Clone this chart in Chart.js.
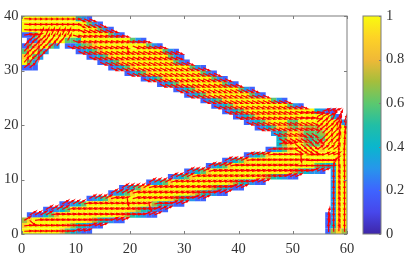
<!DOCTYPE html>
<html>
<head>
<meta charset="utf-8">
<script src="https://cdn.jsdelivr.net/npm/chart.js@4"></script>
<style>
  html, body { margin: 0; padding: 0; background: #fff; overflow: hidden; }
  #wrap { position: relative; width: 411px; height: 258px; }
  canvas { position: absolute; top: 0; }
</style>
</head>
<body>
<div id="wrap">
  <canvas id="field" width="411" height="258" style="left:0"></canvas>
  <canvas id="colorbar" width="61" height="258" style="left:350px"></canvas>
</div>
<script>
const xTicks = [0, 10, 20, 30, 40, 50, 60];
const yTicks = [0, 10, 20, 30, 40];
const colorbarTicks = [0, 0.2, 0.4, 0.6, 0.8, 1];

// colormap: [value, r, g, b]
const colorStops = [
    [0, 62, 38, 168], [0.1, 71, 71, 235], [0.2, 62, 100, 255], [0.3, 39, 150, 235],
    [0.4, 10, 182, 205], [0.5, 34, 190, 165], [0.6, 92, 200, 110], [0.7, 165, 190, 60],
    [0.8, 240, 185, 55], [0.9, 253, 210, 38], [1, 249, 251, 14],
];

// density per cell, top row (y 39-40) first: [first column, values], X = 1, digit = tenths
const densityRows = [
    [[0, 'XXXXXXXXXX532']],
    [[0, 'XXXXXXXXXXXX632']],
    [[0, 'XXXXXXXXXXXXXX632']],
    [[0, '226XXXXXXXXXXXXX632']],
    [[1, '238XXXX665XXXXXXXXX632']],
    [[0, '268XX63'], [8, '224679XXXXXXXXX632']],
    [[0, '6XX63'], [10, '23468XXXXXXXXXXX632']],
    [[0, '9X63'], [12, '23469XXXXXXXXXX632']],
    [[0, 'X63'], [14, '23469XXXXXXXXX632']],
    [[0, '222'], [16, '23469XXXXXXXXXX632']],
    [[19, '23469XXXXXXXXX632']],
    [[22, '23469XXXXXXXX632']],
    [[25, '23469XXXXXXX632']],
    [[28, '23469XXXXXXX632']],
    [[30, '23469XXXXXXX632']],
    [[33, '23469XXXXXXXX632']],
    [[35, '23469XXXXXXXXX632']],
    [[37, '23469XXXXXXXXXXXX4322']],
    [[39, '23469XXXXXXXXXXXXX42']],
    [[41, '23469XXX66XXXXXXX83']],
    [[43, '2346997687779XXXX8']],
    [[46, '3469X86667XXXXX']],
    [[47, '469X86566XXXX']],
    [[47, '479XX7668XXXX']],
    [[45, '23469XXXXX9XXXX']],
    [[41, '23469XXXXXXXXXXXXXX']],
    [[37, '23469XXXXXXXXXXXXXXXXXX']],
    [[34, '23469XXXXXXXXXXXXXXX6544XX']],
    [[30, '23469XXXXXXXXXXXXXX9754332'], [57, '3XX']],
    [[27, '23469XXXXXXXXXXXX9754322'], [57, '3XX']],
    [[23, '23469XXXXXXXXXX9754322'], [57, '3XX']],
    [[18, '23469XXXXXXXXXXX9754322'], [57, '3XX']],
    [[16, '23469XXXXXXXXXX9754322'], [57, '3XX']],
    [[12, '23469XXXXXXXXXX9754322'], [57, '3XX']],
    [[7, '22346XXXXXXXXXXX9754322'], [57, '3XX']],
    [[4, '22346XXXXXXXXXXX9754322'], [57, '3XX']],
    [[1, '222468XXXXXXXXXXX9754322'], [56, '23XX']],
    [[0, '79XXXXXXXXXX9754322'], [56, '23XX']],
    [[0, '9XXXXXXX9754322'], [56, '249X']],
    [[0, 'XXXXXXX864322'], [56, '2797']],
];

// arrow direction in degrees, same row order: [from column, to column, angle]
const arrowAngleRows = [
    [[0, 10, -2], [10, 13, -25]],
    [[0, 10, -3], [10, 15, -28]],
    [[0, 5, -4], [5, 10, -6], [10, 17, -24]],
    [[0, 3, 10], [3, 9, 65], [9, 19, -16]],
    [[1, 4, 45], [4, 9, 60], [9, 23, -18]],
    [[0, 7, 50], [8, 26, -22], [19, 20, -80]],
    [[0, 5, 50], [10, 29, -23]],
    [[0, 4, 50], [12, 29, -23]],
    [[0, 3, 50], [14, 31, -24]],
    [[0, 2, 40], [16, 34, -25]],
    [[19, 36, -25]],
    [[22, 38, -25]],
    [[25, 40, -25]],
    [[28, 43, -25]],
    [[30, 45, -25]],
    [[33, 49, -25]],
    [[35, 52, -24]],
    [[37, 50, -22], [50, 55, -15], [55, 58, 20]],
    [[39, 50, -20], [50, 54, -15], [54, 57, 30], [57, 59, 60]],
    [[41, 50, -22], [50, 54, -25], [54, 58, 40], [58, 60, 70]],
    [[43, 50, -24], [50, 54, -20], [54, 57, 40], [57, 58, 50], [58, 60, 70]],
    [[46, 51, -24], [51, 54, -35], [54, 58, 45], [58, 60, 75]],
    [[47, 52, -30], [52, 55, -40], [55, 58, 45], [58, 60, 80]],
    [[47, 50, 15], [50, 54, -40], [54, 58, 45], [58, 60, 85]],
    [[45, 50, 10], [50, 54, -30], [54, 58, 35], [58, 60, 88]],
    [[41, 45, 20], [45, 50, 8], [50, 55, 5], [51, 52, -85], [55, 58, 20], [58, 60, 90]],
    [[37, 41, 25], [41, 52, 8], [52, 57, 3], [57, 58, 30], [58, 60, 90]],
    [[34, 38, 25], [38, 50, 10], [50, 57, 3], [57, 58, 70], [58, 60, 90]],
    [[30, 34, 28], [34, 53, 12], [53, 56, 25], [57, 60, 88]],
    [[27, 31, 28], [31, 48, 13], [48, 51, 25], [57, 60, 88]],
    [[23, 27, 30], [27, 42, 14], [42, 45, 26], [57, 60, 88]],
    [[18, 23, 30], [23, 38, 14], [38, 41, 26], [57, 60, 88]],
    [[16, 20, 30], [20, 35, 14], [35, 38, 26], [57, 60, 88]],
    [[12, 16, 30], [16, 31, 13], [31, 34, 26], [19, 20, -80], [57, 60, 88]],
    [[7, 11, 30], [11, 27, 12], [27, 30, 26], [23, 24, -70], [57, 60, 88]],
    [[4, 8, 30], [8, 24, 11], [24, 27, 26], [57, 60, 88]],
    [[1, 5, 30], [5, 22, 10], [22, 25, 24], [56, 57, 75], [57, 60, 88]],
    [[0, 1, 30], [1, 2, -40], [2, 16, 8], [16, 19, 22], [56, 57, 80], [57, 60, 88]],
    [[0, 12, 6], [12, 15, 20], [56, 57, 80], [57, 60, 88]],
    [[0, 9, 2], [9, 12, 18], [56, 57, 85], [57, 60, 88]],
];

const axisColor = 'rgb(125,125,125)';
const labelColor = 'rgb(50,50,50)';
const labelFont = { family: '"Liberation Serif", serif', size: 14.5 };
const arrowLength = 1.3;
const headLength = 0.4;
const headSpread = 25;

function parula(value) {
    for (let i = 1; i < colorStops.length; i++) {
        const [v1, r1, g1, b1] = colorStops[i];
        if (value <= v1) {
            const [v0, r0, g0, b0] = colorStops[i - 1];
            const t = (value - v0) / (v1 - v0);
            return `rgb(${r0 + (r1 - r0) * t},${g0 + (g1 - g0) * t},${b0 + (b1 - b0) * t})`;
        }
    }
    return 'rgb(249,251,14)';
}

function angleFor(rowIndex, col) {
    let angle = null;
    arrowAngleRows[rowIndex].forEach(([from, to, deg]) => {
        if (col >= from && col < to) angle = deg;
    });
    return angle;
}

const cellPoints = [];
const cellColors = [];
const arrowPoints = [];

densityRows.forEach((spans, rowIndex) => {
    const row = 39 - rowIndex;
    spans.forEach(([start, values]) => {
        [...values].forEach((ch, i) => {
            const col = start + i;
            const density = ch === 'X' ? 1 : Number(ch) / 10;
            cellPoints.push({ x: col + 0.5, y: row + 0.5 });
            cellColors.push(parula(density));

            const deg = angleFor(rowIndex, col);
            if (deg === null) return;
            const rad = deg * Math.PI / 180;
            const tipX = col + 0.5 + arrowLength * Math.cos(rad);
            const tipY = row + 0.5 + arrowLength * Math.sin(rad);
            const spread = headSpread * Math.PI / 180;
            arrowPoints.push({ x: col + 0.5, y: row + 0.5 }, { x: tipX, y: tipY });
            arrowPoints.push({ x: tipX - headLength * Math.cos(rad + spread), y: tipY - headLength * Math.sin(rad + spread) });
            arrowPoints.push({ x: NaN, y: NaN });
            arrowPoints.push({ x: tipX, y: tipY });
            arrowPoints.push({ x: tipX - headLength * Math.cos(rad - spread), y: tipY - headLength * Math.sin(rad - spread) });
            arrowPoints.push({ x: NaN, y: NaN });
        });
    });
});

// box around the chart area and the short ticks pointing inwards
const insideTicks = {
    id: 'insideTicks',
    afterDraw(chart, args, opts) {
        const { ctx, chartArea: a, scales } = chart;
        ctx.save();
        ctx.strokeStyle = axisColor;
        ctx.lineWidth = 1;
        ctx.strokeRect(a.left, a.top, a.right - a.left, a.bottom - a.top);
        ctx.beginPath();
        if (opts.box) {
            xTicks.forEach(v => {
                const px = Math.round(scales.x.getPixelForValue(v)) + 0.5;
                ctx.moveTo(px, a.bottom); ctx.lineTo(px, a.bottom - 3);
                ctx.moveTo(px, a.top); ctx.lineTo(px, a.top + 3);
            });
            yTicks.forEach(v => {
                const py = Math.round(scales.y.getPixelForValue(v)) + 0.5;
                ctx.moveTo(a.left, py); ctx.lineTo(a.left + 3, py);
                ctx.moveTo(a.right, py); ctx.lineTo(a.right - 3, py);
            });
        } else {
            colorbarTicks.forEach(v => {
                const py = Math.round(scales.y.getPixelForValue(v)) + 0.5;
                ctx.moveTo(a.right, py); ctx.lineTo(a.right - 2, py);
            });
        }
        ctx.stroke();
        ctx.restore();
    },
};

const tickStyle = { color: labelColor, font: labelFont, maxRotation: 0, autoSkip: false };
const noGrid = { display: false, drawTicks: false };

new Chart(document.getElementById('field'), {
    type: 'scatter',
    plugins: [insideTicks],
    data: {
        datasets: [
            {
                data: arrowPoints,
                showLine: true,
                spanGaps: false,
                borderColor: '#ff0000',
                borderWidth: 1.2,
                pointRadius: 0,
                order: 0,
            },
            {
                data: cellPoints,
                pointStyle: 'rect',
                pointRadius: 3.95,
                pointBorderWidth: 0,
                pointBackgroundColor: cellColors,
                order: 1,
            },
        ],
    },
    options: {
        responsive: false,
        animation: false,
        events: [],
        layout: { padding: { top: 16, right: 64, bottom: 0, left: 0 } },
        plugins: { legend: { display: false }, tooltip: { enabled: false }, insideTicks: { box: true } },
        scales: {
            x: {
                type: 'linear',
                min: 0,
                max: 60,
                grid: noGrid,
                border: { display: false },
                ticks: { ...tickStyle, padding: 6, callback: v => String(v) },
                afterBuildTicks: s => { s.ticks = xTicks.map(value => ({ value })); },
                afterFit: s => { s.height = 24; },
            },
            y: {
                type: 'linear',
                min: 0,
                max: 40,
                grid: noGrid,
                border: { display: false },
                ticks: { ...tickStyle, padding: 3, callback: v => String(v) },
                afterBuildTicks: s => { s.ticks = yTicks.map(value => ({ value })); },
                afterFit: s => { s.width = 21.5; },
            },
        },
    },
});

new Chart(document.getElementById('colorbar'), {
    type: 'bar',
    plugins: [insideTicks],
    data: {
        labels: [''],
        datasets: [{
            data: [1],
            barPercentage: 1,
            categoryPercentage: 1,
            backgroundColor: ({ chart }) => {
                const { ctx, chartArea } = chart;
                if (!chartArea) return parula(0.5);
                const gradient = ctx.createLinearGradient(0, chartArea.bottom, 0, chartArea.top);
                colorStops.forEach(([v]) => gradient.addColorStop(v, parula(v)));
                return gradient;
            },
        }],
    },
    options: {
        responsive: false,
        animation: false,
        events: [],
        layout: { padding: { top: 16, right: 0, bottom: 24, left: 13 } },
        plugins: { legend: { display: false }, tooltip: { enabled: false }, insideTicks: { box: false } },
        scales: {
            x: { display: false },
            y: {
                position: 'right',
                min: 0,
                max: 1,
                grid: noGrid,
                border: { display: false },
                ticks: { ...tickStyle, padding: 5, callback: v => String(v) },
                afterBuildTicks: s => { s.ticks = colorbarTicks.map(value => ({ value })); },
                afterFit: s => { s.width = 30; },
            },
        },
    },
});
</script>
</body>
</html>
